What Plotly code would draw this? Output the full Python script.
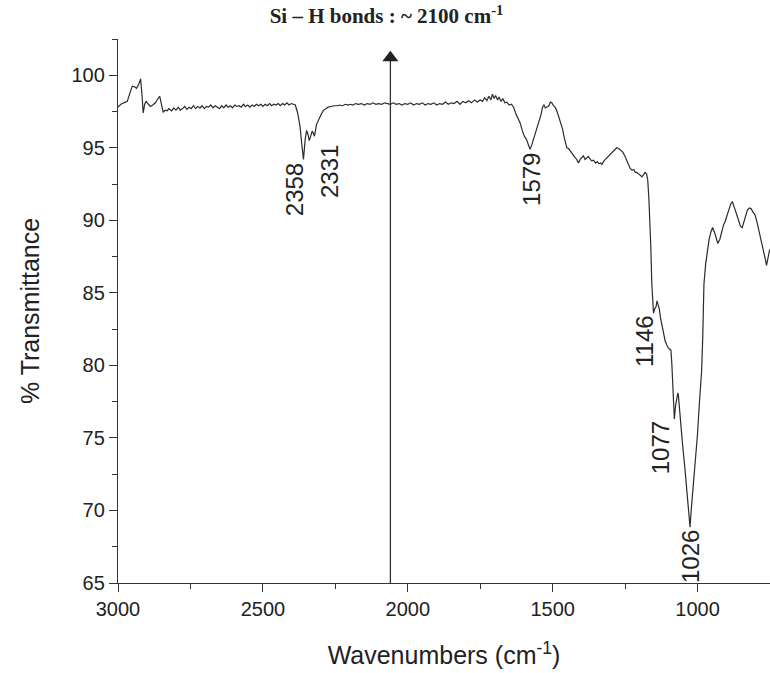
import plotly.graph_objects as go

# ---- data ----
wavenumber = [
    3000, 2990, 2980, 2968, 2960, 2951, 2943, 2936, 2928, 2922, 2917, 2913, 2908, 2903, 2895,
    2888, 2880, 2871, 2862, 2856, 2850, 2844, 2838, 2830, 2825,
    2815, 2808, 2800, 2792, 2785, 2777, 2770, 2762, 2755, 2747, 2740, 2732, 2725, 2717, 2710,
    2702, 2695, 2687, 2680, 2672, 2665, 2657, 2650, 2642, 2635, 2627, 2620, 2612, 2605, 2597,
    2590, 2582, 2575, 2567, 2560, 2552, 2545, 2537, 2530, 2522, 2515, 2507, 2500, 2492, 2485,
    2477, 2470, 2462, 2455, 2447, 2440, 2432, 2425, 2417, 2410, 2402, 2395, 2388,
    2380, 2372, 2366, 2360, 2354, 2349, 2344, 2340, 2335, 2330, 2326, 2322, 2315, 2307, 2298,
    2290, 2284, 2275, 2265, 2255, 2244, 2235, 2225, 2215, 2205, 2198, 2190, 2180, 2170, 2160,
    2150, 2140, 2130, 2120, 2110, 2100, 2090, 2080, 2070, 2060, 2050, 2040, 2030, 2020, 2010,
    2000, 1990, 1980, 1970, 1960, 1950, 1940, 1930, 1920, 1910, 1900, 1890, 1880, 1870, 1860,
    1850, 1840, 1830, 1820, 1810, 1800, 1790, 1780, 1770, 1760, 1750, 1742, 1735, 1727, 1720,
    1713, 1708, 1702, 1697, 1690, 1685, 1678, 1672, 1665, 1658, 1650, 1642, 1635, 1628, 1620,
    1612, 1605, 1598, 1591, 1585, 1578, 1572, 1566, 1560, 1553, 1546, 1540, 1535, 1530, 1525,
    1520, 1513, 1508, 1503, 1497, 1490, 1484, 1478, 1472, 1466, 1460, 1455, 1451, 1445, 1440,
    1434, 1428, 1422, 1417, 1411, 1405, 1400, 1394, 1388, 1382, 1377, 1370, 1365, 1359, 1352,
    1346, 1340, 1334, 1330, 1323, 1316, 1308, 1300, 1293, 1286, 1279, 1272, 1265, 1258, 1250,
    1244, 1238, 1233, 1226, 1220, 1215, 1210, 1203, 1197, 1192, 1186, 1181, 1176, 1172, 1168,
    1165, 1161, 1158, 1155, 1152, 1148, 1143, 1140, 1136, 1132, 1128, 1124, 1118, 1112, 1106,
    1101, 1095, 1092, 1089, 1086, 1083, 1080, 1076, 1072, 1068, 1066, 1063, 1060, 1052, 1043,
    1035, 1030, 1026, 1022, 1015, 1008, 1000, 995, 990, 986, 982, 978, 972, 966, 960,
    954, 948, 942, 936, 930, 923, 916, 910, 905, 898, 892, 886, 880, 876, 870,
    865, 858, 852, 846, 840, 834, 828, 821, 815, 810, 802, 795, 788, 779, 772,
    766, 762, 757, 751,
]
transmittance = [
    97.8, 98.0, 98.1, 98.2, 98.7, 99.25, 99.2, 99.1, 99.4, 99.75, 98.6, 97.4, 98.0, 98.2, 98.0,
    97.85, 97.95, 98.1, 98.4, 98.55, 98.0, 97.45, 97.6, 97.55, 97.7,
    97.55, 97.75, 97.6, 97.8, 97.6, 97.7, 97.85, 97.65, 97.8, 97.7, 97.9, 97.7, 97.85, 97.75, 97.9,
    97.7, 97.85, 97.8, 97.95, 97.75, 97.9, 97.8, 97.7, 97.9, 97.75, 97.95, 97.8, 97.9, 97.75, 97.95,
    97.85, 97.9, 97.8, 98.0, 97.85, 97.95, 97.8, 97.95, 97.85, 98.0, 97.9, 98.0, 97.85, 98.0, 97.9,
    98.05, 97.9, 98.0, 97.95, 98.05, 97.9, 98.05, 97.95, 98.1, 97.95, 98.05, 98.0, 97.95,
    97.4, 96.5, 95.3, 94.2, 95.6, 96.2, 95.9, 95.5, 95.8, 96.15, 96.0, 95.8, 96.6, 97.0, 97.35,
    97.6, 97.7, 97.8, 97.85, 97.9, 97.9, 97.95, 97.9, 98.0, 97.95, 98.0, 97.95, 98.05, 98.0, 98.05,
    97.95, 98.05, 98.0, 98.1, 98.0, 98.05, 98.0, 98.1, 98.05, 98.0, 98.1, 98.0, 98.05, 97.95, 98.05,
    98.0, 98.1, 97.95, 98.05, 98.0, 98.1, 97.95, 98.05, 98.0, 98.1, 97.95, 98.05, 98.0, 98.15, 98.0,
    98.1, 98.05, 98.2, 98.0, 98.2, 98.1, 98.25, 98.1, 98.3, 98.15, 98.3, 98.2, 98.45, 98.25, 98.55,
    98.3, 98.7, 98.4, 98.6, 98.3, 98.5, 98.2, 98.4, 98.1, 98.15, 97.95, 98.0, 97.8, 97.4, 97.0,
    96.7, 96.2, 95.8, 95.6, 95.2, 94.9, 95.2, 95.6, 95.9, 96.5, 97.0, 97.3, 97.8, 97.95, 97.75,
    97.8, 97.9, 98.15, 98.1, 97.9, 97.75, 97.45, 97.1, 96.7, 96.3, 95.7, 95.3, 95.0, 94.95, 94.8,
    94.6, 94.5, 94.3, 94.2, 93.95, 94.2, 94.35, 94.45, 94.2, 94.35, 94.4, 94.2, 94.1, 94.15, 93.95,
    94.05, 93.9, 93.95, 93.85, 94.1, 94.25, 94.4, 94.55, 94.7, 94.85, 95.0, 94.95, 94.85, 94.7, 94.4,
    94.1, 93.8, 93.6, 93.45, 93.5, 93.3, 93.3, 93.2, 93.05, 93.0, 93.15, 93.3, 93.2, 92.8, 91.5,
    90.3, 88.0, 85.7, 84.5, 83.6, 83.9, 84.05, 84.45, 84.2, 83.9, 83.3, 82.9, 82.3, 81.7, 81.4,
    81.2, 81.1, 81.05, 80.2, 79.0, 78.0, 76.3, 77.2, 77.6, 78.1, 77.9, 77.3, 76.3, 74.6, 72.75,
    70.7, 69.6, 68.85, 70.0, 71.6, 73.5, 75.3, 77.0, 78.2, 79.6, 82.0, 85.6, 87.0, 88.0, 88.7,
    89.2, 89.5, 89.2, 88.7, 88.4, 88.7, 89.3, 89.7, 89.9, 90.4, 90.8, 91.1, 91.3, 91.1, 90.7,
    90.4, 90.0, 89.6, 89.5, 89.9, 90.3, 90.7, 90.85, 90.8, 90.6, 90.4, 89.9, 89.3, 88.6, 87.9,
    87.3, 86.9, 87.4, 88.0,
]

peak_labels = ["2358", "2331", "1579", "1146", "1077", "1026"]
peak_label_x = [2388, 2271, 1574, 1184, 1129, 1022]
peak_label_y = [92.1, 93.35, 92.8, 81.7, 74.3, 66.8]

x_ticks = [3000, 2500, 2000, 1500, 1000]
y_ticks = [65, 70, 75, 80, 85, 90, 95, 100]

arrow_x = [2060, 2060]
arrow_y = [65, 101.2]

title_text = "<b>Si – H bonds : ~ 2100 cm<sup>-1</sup></b>"
x_title = "Wavenumbers (cm<sup>-1</sup>)"
y_title = "% Transmittance"

# ---- figure ----
fig = go.Figure()
fig.add_trace(go.Scatter(
    x=wavenumber, y=transmittance, mode="lines",
    line=dict(color="#2b2b2b", width=1.2), showlegend=False, hoverinfo="skip",
))

# Si-H marker arrow: shaft + filled triangle head
fig.add_trace(go.Scatter(
    x=arrow_x, y=arrow_y, mode="lines", line=dict(color="#333", width=1.3),
    showlegend=False, hoverinfo="skip",
))
fig.add_trace(go.Scatter(
    x=arrow_x[1:], y=arrow_y[1:], mode="markers",
    marker=dict(symbol="triangle-up", size=14, color="#222", line=dict(width=0)),
    showlegend=False, hoverinfo="skip",
))

for txt, xv, yv in zip(peak_labels, peak_label_x, peak_label_y):
    fig.add_annotation(x=xv, y=yv, text=txt, showarrow=False, textangle=-90,
                       font=dict(family="Liberation Sans, Arial", size=24, color="#222"))

axis_font = dict(family="Liberation Sans, Arial", size=20, color="#222")
fig.update_layout(
    width=770, height=673,
    margin=dict(l=118, r=0, t=39, b=90),
    paper_bgcolor="white", plot_bgcolor="white",
    title=dict(text=title_text, x=0.502, xref="container", xanchor="center",
               y=1 - 16 / 673, yref="container", yanchor="middle", automargin=False,
               font=dict(family="Liberation Serif, Times New Roman", size=21, color="#222")),
    xaxis=dict(range=[3000, 750], tickvals=x_ticks, ticks="outside", ticklen=8,
               tickwidth=1.3, tickcolor="#333", showline=True, linecolor="#333", linewidth=1.3,
               showgrid=False, zeroline=False, tickfont=axis_font, automargin=False,
               minor=dict(dtick=250, tick0=0, ticks="outside", ticklen=5, tickcolor="#333",
                          tickwidth=1.2, showgrid=False),
               title=dict(text=x_title, font=dict(family="Liberation Sans, Arial", size=25, color="#222"),
                          standoff=27)),
    yaxis=dict(range=[65, 102.5], tickvals=y_ticks, ticks="outside", ticklen=8,
               tickwidth=1.3, tickcolor="#333", showline=True, linecolor="#333", linewidth=1.3,
               showgrid=False, zeroline=False, tickfont=axis_font, automargin=False,
               minor=dict(dtick=2.5, tick0=0, ticks="outside", ticklen=5, tickcolor="#333",
                          tickwidth=1.2, showgrid=False),
               title=dict(text=y_title, font=dict(family="Liberation Sans, Arial", size=25, color="#222"),
                          standoff=24)),
)

fig.write_html(
    "out.html",
    config={"displayModeBar": False},
    post_script="document.body.style.margin='0';document.body.style.overflow='hidden';",
)
